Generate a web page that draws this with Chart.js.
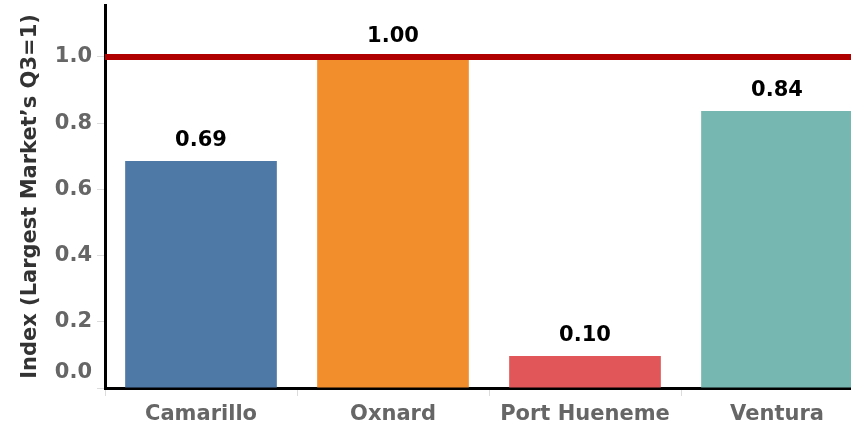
<!DOCTYPE html>
<html>
<head>
<meta charset="utf-8">
<script src="https://cdn.jsdelivr.net/npm/chart.js@4"></script>
<style>
  html, body { margin: 0; padding: 0; background: #fff; overflow: hidden; }
  #wrap { width: 873px; height: 429px; }
</style>
</head>
<body>
<div id="wrap"><canvas id="indexChart" width="873" height="429"></canvas></div>
<script>
const cities = ["Camarillo", "Oxnard", "Port Hueneme", "Ventura"];
const indexValues = [0.686, 1.00, 0.097, 0.837];
const barColors = ["#4e79a7", "#f28e2b", "#e15759", "#76b7b2"];
const yTicks = [0, 0.2, 0.4, 0.6, 0.8, 1.0];
const refValue = 1.0; // largest market Q3 = 1

const fontFamily = "'DejaVu Sans', sans-serif";

// red reference line at 1.0 + value labels on top of bars
const refLinePlugin = {
  id: "refLine",
  afterDatasetsDraw(chart) {
    const { ctx, chartArea, scales } = chart;
    const y = scales.y.getPixelForValue(refValue);
    ctx.save();
    ctx.strokeStyle = "#b00000";
    ctx.lineWidth = 6;
    ctx.beginPath();
    ctx.moveTo(chartArea.left, y);
    ctx.lineTo(chartArea.right, y);
    ctx.stroke();

    ctx.fillStyle = "#000";
    ctx.font = "bold 21px " + fontFamily;
    ctx.textAlign = "center";
    ctx.textBaseline = "alphabetic";
    chart.getDatasetMeta(0).data.forEach((bar, i) => {
      ctx.fillText(indexValues[i].toFixed(2), bar.x, bar.y - 15);
    });
    ctx.restore();
  }
};

const ctx = document.getElementById("indexChart").getContext("2d");
new Chart(ctx, {
  type: "bar",
  data: {
    labels: cities,
    datasets: [{
      data: indexValues,
      backgroundColor: barColors,
      barPercentage: 0.79,
      categoryPercentage: 1.0,
    }],
  },
  options: {
    responsive: false,
    animation: false,
    layout: { padding: { top: 5, left: 0, right: 0, bottom: 0 } },
    plugins: { legend: { display: false }, tooltip: { enabled: false } },
    scales: {
      x: {
        grid: { drawOnChartArea: false, drawTicks: true, tickLength: 8, tickColor: "#dcdcdc", offset: true },
        border: { display: true, color: "#000", width: 3 },
        ticks: {
          color: "#666",
          padding: 6,
          font: { family: fontFamily, size: 21, weight: "bold" },
        },
        afterFit: (s) => { s.height = 41; s.paddingLeft = 0; s.paddingRight = 0; },
      },
      y: {
        min: 0,
        max: 1.157,
        afterBuildTicks: (s) => { s.ticks = yTicks.map((v) => ({ value: v })); },
        grid: { drawOnChartArea: false, drawTicks: true, tickLength: 8, tickColor: "#dcdcdc" },
        border: { display: true, color: "#000", width: 3 },
        ticks: {
          color: "#666",
          padding: 5,
          // the 0.0 label sits a bit above its tick, like in the original
          callback: (v) => (v === 0 ? [v.toFixed(1), ""] : v.toFixed(1)),
          font: (c) => ({
            family: fontFamily, size: 21, weight: "bold",
            lineHeight: c.tick && c.tick.value === 0 ? 1.45 : 1.2,
          }),
        },
        title: {
          display: true,
          text: "Index (Largest Market\u2019s Q3=1)",
          color: "#333",
          padding: { top: 18, bottom: 0 },
          font: { family: fontFamily, size: 21, weight: "bold" },
        },
        afterFit: (s) => { s.width = 105; s.paddingTop = 0; s.paddingBottom = 0; },
      },
    },
  },
  plugins: [refLinePlugin],
});
</script>
</body>
</html>
